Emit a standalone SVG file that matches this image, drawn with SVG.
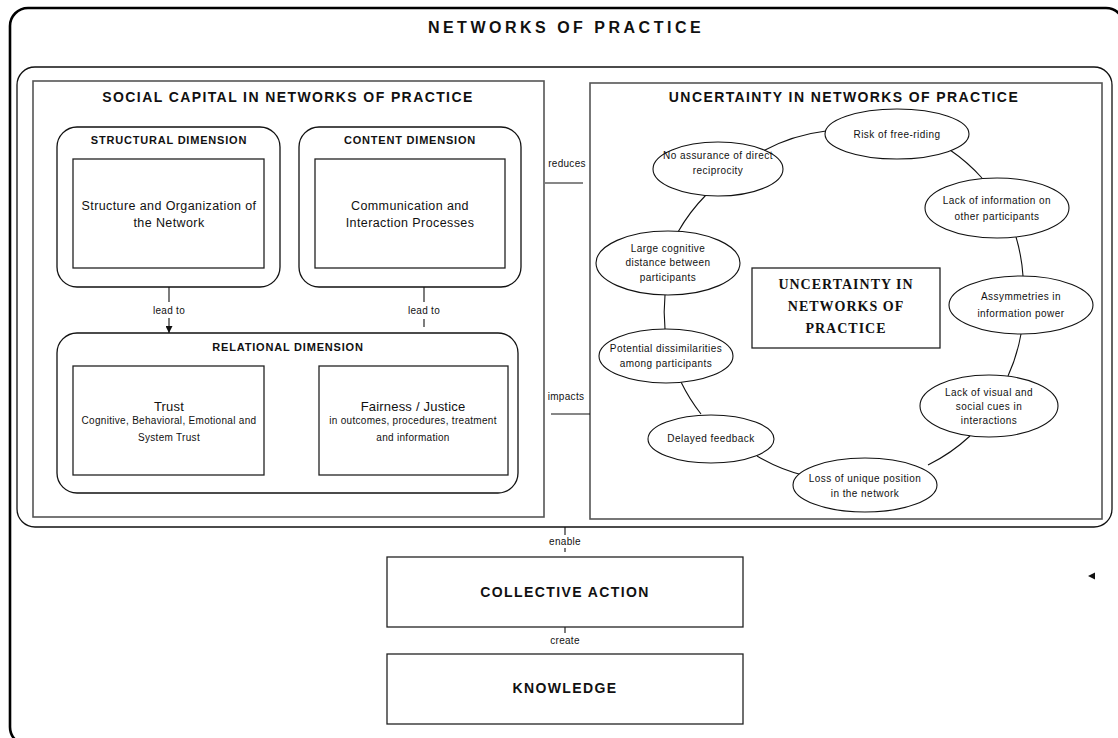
<svg xmlns="http://www.w3.org/2000/svg" width="1118" height="738" viewBox="0 0 1118 738">
<defs>
<style>
.t{font-family:"Liberation Sans",Arial,sans-serif;fill:#111;text-anchor:middle}
.h1{font-size:16px;font-weight:bold;letter-spacing:3.5px}
.h2{font-size:14px;font-weight:bold;letter-spacing:1.4px}
.h3{font-size:11px;font-weight:bold;letter-spacing:0.8px}
.b{font-size:12.5px;letter-spacing:0.4px}
.tt{font-size:13px;letter-spacing:0.2px}
.s{font-size:10px;letter-spacing:0.3px}
.e{font-size:10px;letter-spacing:0.45px}
.sf{font-family:"Liberation Serif","Times New Roman",serif;font-size:14px;font-weight:bold;letter-spacing:1px;fill:#111;text-anchor:middle}
.rr{fill:#fff;stroke:#111;stroke-width:1.3}
.box{fill:#fff;stroke:#222;stroke-width:1.3}
.panel{fill:#fff;stroke:#555;stroke-width:1.6}
.ell{fill:#fff;stroke:#111;stroke-width:1.1}
.ln{fill:none;stroke:#111;stroke-width:1.1}
</style>
<marker id="arr" viewBox="0 0 10 10" refX="10" refY="5" markerWidth="7" markerHeight="7" markerUnits="userSpaceOnUse" orient="auto">
<path d="M0,0 L10,5 L0,10 Z" fill="#111"/>
</marker>
</defs>
<rect width="1118" height="738" fill="#fff"/>

<g id="networks-of-practice">
<rect x="10" y="8" width="1114" height="737" rx="18" fill="none" stroke="#000" stroke-width="2.6"/>
<text class="t h1" x="566" y="33">NETWORKS OF PRACTICE</text>
</g>

<g id="inner-frame">
<rect class="rr" x="17" y="67" width="1095" height="460" rx="18"/>
</g>

<g id="social-capital">
<rect class="panel" x="33" y="81" width="511" height="436"/>
<text class="t h2" x="288" y="102">SOCIAL CAPITAL IN NETWORKS OF PRACTICE</text>
</g>

<g id="uncertainty">
<rect class="panel" x="590" y="83" width="512" height="436"/>
<text class="t h2" x="844" y="102">UNCERTAINTY IN NETWORKS OF PRACTICE</text>
</g>

<g id="connectors">
<line class="ln" x1="169" y1="287" x2="169" y2="302"/>
<text class="t s" x="169" y="314">lead to</text>
<line class="ln" x1="169" y1="318" x2="169" y2="333" marker-end="url(#arr)"/>
<line class="ln" x1="424" y1="287" x2="424" y2="302"/>
<text class="t s" x="424" y="314">lead to</text>
<line class="ln" x1="424" y1="319" x2="424" y2="327"/>
<text class="t s" x="292" y="390">enforces</text>
<line class="ln" x1="264" y1="399" x2="313" y2="399"/>
<text class="t s" x="292" y="437">substitutes</text>
<line class="ln" x1="269" y1="447" x2="319" y2="447"/>
<text class="t s" x="567" y="167">reduces</text>
<line class="ln" x1="545" y1="183" x2="583" y2="183"/>
<text class="t s" x="566" y="400">impacts</text>
<line class="ln" x1="551" y1="414" x2="590" y2="414"/>
<line class="ln" x1="565" y1="527" x2="565" y2="535"/>
<text class="t s" x="565" y="545">enable</text>
<line class="ln" x1="565" y1="548" x2="565" y2="552"/>
<line class="ln" x1="565" y1="627" x2="565" y2="633"/>
<text class="t s" x="565" y="644">create</text>
<path class="ln" d="M763,151 A176,176 0 0 1 826,131"/>
<path class="ln" d="M950,150 A176,176 0 0 1 982,178"/>
<path class="ln" d="M1016,237 A176,176 0 0 1 1023,276"/>
<path class="ln" d="M1021,334 A176,176 0 0 1 1008,376"/>
<path class="ln" d="M970,436 A176,176 0 0 1 928,465"/>
<path class="ln" d="M806,476 A176,176 0 0 1 757,456"/>
<path class="ln" d="M701,414 A176,176 0 0 1 681,382"/>
<path class="ln" d="M665,329 A176,176 0 0 1 665,295"/>
<path class="ln" d="M678,232 A176,176 0 0 1 706,195"/>
<polygon points="1088,576 1095,572.5 1095,579.5" fill="#111"/>
</g>

<g id="structural-dimension">
<rect class="rr" x="57" y="127" width="223" height="160" rx="20"/>
<text class="t h3" x="169" y="144">STRUCTURAL DIMENSION</text>
<rect class="box" x="73" y="159" width="191" height="109"/>
<text class="t b" x="169" y="210">Structure and Organization of</text>
<text class="t b" x="169" y="227">the Network</text>
</g>

<g id="content-dimension">
<rect class="rr" x="299" y="127" width="222" height="160" rx="20"/>
<text class="t h3" x="410" y="144">CONTENT DIMENSION</text>
<rect class="box" x="315" y="159" width="190" height="109"/>
<text class="t b" x="410" y="210">Communication and</text>
<text class="t b" x="410" y="227">Interaction Processes</text>
</g>

<g id="relational-dimension">
<rect class="rr" x="57" y="333" width="461" height="160" rx="20"/>
<text class="t h3" x="288" y="351">RELATIONAL DIMENSION</text>
</g>

<g id="trust">
<rect class="box" x="73" y="366" width="191" height="109"/>
<text class="t tt" x="169" y="411">Trust</text>
<text class="t s" x="169" y="424">Cognitive, Behavioral, Emotional and</text>
<text class="t s" x="169" y="441">System Trust</text>
</g>

<g id="fairness">
<rect class="box" x="319" y="366" width="189" height="109"/>
<text class="t tt" x="413" y="411">Fairness / Justice</text>
<text class="t s" x="413" y="424">in outcomes, procedures, treatment</text>
<text class="t s" x="413" y="441">and information</text>
</g>

<g id="risk">
<ellipse class="ell" cx="897" cy="134" rx="72" ry="25"/>
<text class="t e" x="897" y="138">Risk of free-riding</text>
</g>
<g id="no-assurance">
<ellipse class="ell" cx="718" cy="169" rx="65" ry="27"/>
<text class="t e" x="718" y="159">No assurance of direct</text>
<text class="t e" x="718" y="174">reciprocity</text>
</g>
<g id="lack-information">
<ellipse class="ell" cx="997" cy="208" rx="72" ry="30"/>
<text class="t e" x="997" y="204">Lack of information on</text>
<text class="t e" x="997" y="220">other participants</text>
</g>
<g id="cognitive-distance">
<ellipse class="ell" cx="668" cy="263" rx="72" ry="32"/>
<text class="t e" x="668" y="252">Large cognitive</text>
<text class="t e" x="668" y="266">distance between</text>
<text class="t e" x="668" y="281">participants</text>
</g>
<g id="assymmetries">
<ellipse class="ell" cx="1021" cy="305" rx="72" ry="29"/>
<text class="t e" x="1021" y="300">Assymmetries in</text>
<text class="t e" x="1021" y="317">information power</text>
</g>
<g id="dissimilarities">
<ellipse class="ell" cx="666" cy="356" rx="67" ry="27"/>
<text class="t e" x="666" y="352">Potential dissimilarities</text>
<text class="t e" x="666" y="367">among participants</text>
</g>
<g id="visual-cues">
<ellipse class="ell" cx="989" cy="406" rx="69" ry="31"/>
<text class="t e" x="989" y="396">Lack of visual and</text>
<text class="t e" x="989" y="410">social cues in</text>
<text class="t e" x="989" y="424">interactions</text>
</g>
<g id="delayed-feedback">
<ellipse class="ell" cx="711" cy="439" rx="63" ry="24"/>
<text class="t e" x="711" y="442">Delayed feedback</text>
</g>
<g id="unique-position">
<ellipse class="ell" cx="865" cy="485" rx="72" ry="27"/>
<text class="t e" x="865" y="482">Loss of unique position</text>
<text class="t e" x="865" y="497">in the network</text>
</g>

<g id="uncertainty-center">
<rect class="box" x="752" y="268" width="188" height="80"/>
<text class="sf" x="846" y="289">UNCERTAINTY IN</text>
<text class="sf" x="846" y="311">NETWORKS OF</text>
<text class="sf" x="846" y="333">PRACTICE</text>
</g>

<g id="collective-action">
<rect class="box" x="387" y="557" width="356" height="70"/>
<text class="t h2" x="565" y="597">COLLECTIVE ACTION</text>
</g>

<g id="knowledge">
<rect class="box" x="387" y="654" width="356" height="70"/>
<text class="t h2" x="565" y="693">KNOWLEDGE</text>
</g>
</svg>
